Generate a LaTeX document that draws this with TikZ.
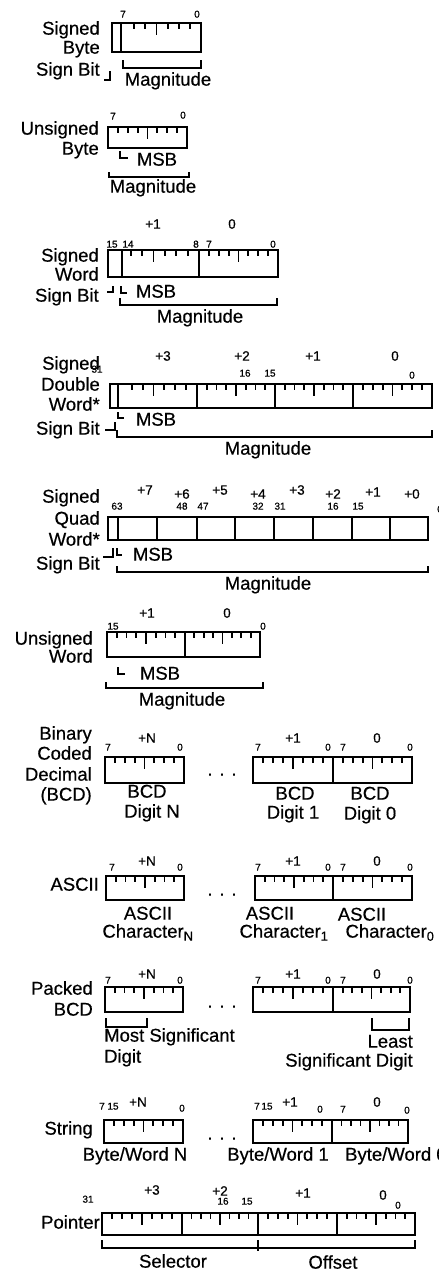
\documentclass[tikz,border=0pt]{standalone}
\usepackage{fontspec}
\setmainfont{Liberation Sans}[FakeBold=0.5]
\usetikzlibrary{positioning}

\tikzset{
	frame/.style={line width=2.5pt},
	tick/.style={line width=1.8pt},
	brack/.style={line width=1.8pt},
	lbl/.style={inner sep=0pt, anchor=mid, font=\fontsize{18.5}{20}\selectfont},
	rlbl/.style={lbl, anchor=mid east},
	llbl/.style={lbl, anchor=mid west},
	bitno/.style={inner sep=0pt, anchor=mid, font=\fontsize{10}{10}\selectfont},
	byteno/.style={inner sep=0pt, anchor=mid, font=\fontsize{13.5}{14}\selectfont},
}
% ticks of one byte: [first tick]{left}{right}{top}
\newcommand{\byteticks}[4][1]{%
	\foreach \k in {#1,...,7}{%
		\pgfmathsetmacro{\len}{\k==4 ? 12 : 6}
		\draw[tick] ({#2+(#3-#2)*\k/8},#4) -- ++(0,\len);}}

\begin{document}
\begin{tikzpicture}[x=1pt, y=-1pt]
	\useasboundingbox (0,0) rectangle (439,1275);

	% signed byte
	\node[rlbl] (sb-l1) at (100,32) {Signed};
	\node[rlbl] (sb-l2) at (100,51) {Byte};
	\node[rlbl] (sb-l3) at (100,73) {Sign Bit};
	\node[bitno] (sb-b7) at (123,15) {7};
	\node[bitno] (sb-b0) at (197,15) {0};
	\draw[frame] (112,23) rectangle (201,52);
	\draw[frame] (121,23) -- (121,52);
	\byteticks[2]{112}{201}{23}
	\draw[brack] (104,80) -- (110,80) -- (110,71);
	\draw[brack] (123,60) |- (201,68) -- (201,60);
	\node[lbl] (sb-mag) at (168,83) {Magnitude};

	% unsigned byte
	\node[rlbl] (ub-l1) at (99,132) {Unsigned};
	\node[rlbl] (ub-l2) at (99,152) {Byte};
	\node[bitno] (ub-b7) at (113,117) {7};
	\node[bitno] (ub-b0) at (183,116) {0};
	\draw[frame] (108,127) rectangle (187,148);
	\byteticks{108}{187}{127}
	\draw[brack] (120,151) |- (128,158);
	\node[lbl] (ub-msb) at (157,163) {MSB};
	\draw[brack] (109,172) |- (189,177) -- (189,172);
	\node[lbl] (ub-mag) at (153,190) {Magnitude};

	% signed word
	\node[rlbl] (sw-l1) at (99,259) {Signed};
	\node[rlbl] (sw-l2) at (99,278) {Word};
	\node[rlbl] (sw-l3) at (99,299) {Sign Bit};
	\foreach \t/\x [count=\i] in {+1/153,0/232}
		\node[byteno] (sw-n\i) at (\x,226) {\t};
	\foreach \t/\x [count=\i] in {15/112,14/128,8/196,7/209,0/273}
		\node[bitno] (sw-b\i) at (\x,245) {\t};
	\draw[frame] (108,250) rectangle (278,277);
	\draw[frame] (122,250) -- (122,277) (199,250) -- (199,277);
	\byteticks[2]{108}{199}{250}
	\byteticks{199}{278}{250}
	\draw[brack] (107,292) -- (113,292) -- (113,286);
	\draw[brack] (121,286) |- (127,293);
	\node[lbl] (sw-msb) at (156,295) {MSB};
	\draw[brack] (120,298) |- (277,305) -- (277,298);
	\node[lbl] (sw-mag) at (200,320) {Magnitude};

	% signed double word
	\node[rlbl] (sd-l1) at (100,367) {Signed};
	\node[rlbl] (sd-l2) at (100,388) {Double};
	\node[rlbl] (sd-l3) at (100,408) {Word*};
	\node[rlbl] (sd-l4) at (100,432) {Sign Bit};
	\foreach \t/\x [count=\i] in {+3/163,+2/242,+1/313,0/395}
		\node[byteno] (sd-n\i) at (\x,358) {\t};
	\foreach \t/\x/\y [count=\i] in {31/97/370,16/245/374,15/270/374,0/412/376}
		\node[bitno] (sd-b\i) at (\x,\y) {\t};
	\draw[frame] (110,384) rectangle (432,408);
	\draw[frame] (118,384) -- (118,408);
	\foreach \x in {197,275,353}
		\draw[frame] (\x,384) -- (\x,408);
	\byteticks[2]{110}{197}{384}
	\byteticks{197}{275}{384}
	\byteticks{275}{353}{384}
	\byteticks{353}{432}{384}
	\draw[brack] (105,430) -- (115,430) -- (115,422);
	\draw[brack] (118,412) |- (124,418);
	\node[lbl] (sd-msb) at (156,423) {MSB};
	\draw[brack] (117,430) |- (432,437) -- (432,430);
	\node[lbl] (sd-mag) at (268,452) {Magnitude};

	% signed quad word
	\node[rlbl] (sq-l1) at (100,500) {Signed};
	\node[rlbl] (sq-l2) at (100,522) {Quad};
	\node[rlbl] (sq-l3) at (100,543) {Word*};
	\node[rlbl] (sq-l4) at (100,567) {Sign Bit};
	\foreach \t/\x/\y [count=\i] in {+7/145/492,+6/182/496,+5/220/492,+4/258/496,+3/297/492,+2/333/496,+1/373/494,+0/412/496}
		\node[byteno] (sq-n\i) at (\x,\y) {\t};
	\foreach \t/\x/\y [count=\i] in {63/117/507,48/182/507,47/203/507,32/258/507,31/280/507,16/333/507,15/358/507,0/440/510}
		\node[bitno] (sq-b\i) at (\x,\y) {\t};
	\draw[frame] (108,517) rectangle (428,540);
	\foreach \x in {118,157,197,235,274,313,352,390}
		\draw[frame] (\x,517) -- (\x,540);
	\draw[brack] (103,557) -- (113,557) -- (113,548);
	\draw[brack] (117,548) |- (122,555);
	\node[lbl] (sq-msb) at (153,558) {MSB};
	\draw[brack] (117,566) |- (428,572) -- (428,566);
	\node[lbl] (sq-mag) at (268,587) {Magnitude};

	% unsigned word
	\node[rlbl] (uw-l1) at (93,642) {Unsigned};
	\node[rlbl] (uw-l2) at (93,660) {Word};
	\foreach \t/\x [count=\i] in {+1/147,0/227}
		\node[byteno] (uw-n\i) at (\x,615) {\t};
	\foreach \t/\x [count=\i] in {15/113,0/263}
		\node[bitno] (uw-b\i) at (\x,627) {\t};
	\draw[frame] (107,632) rectangle (260,657);
	\draw[frame] (185,632) -- (185,657);
	\byteticks{107}{185}{632}
	\byteticks{185}{260}{632}
	\draw[brack] (118,667) |- (125,674);
	\node[lbl] (uw-msb) at (160,677) {MSB};
	\draw[brack] (106,682) |- (263,688) -- (263,682);
	\node[lbl] (uw-mag) at (182,703) {Magnitude};

	% binary coded decimal
	\node[rlbl] (bcd-l1) at (92,737) {Binary};
	\node[rlbl] (bcd-l2) at (92,757) {Coded};
	\node[rlbl] (bcd-l3) at (92,778) {Decimal};
	\node[rlbl] (bcd-l4) at (92,798) {(BCD)};
	\foreach \t/\x [count=\i] in {+N/147,+1/293,0/377}
		\node[byteno] (bcd-n\i) at (\x,740) {\t};
	\foreach \t/\x [count=\i] in {7/108,0/180,7/258,0/328,7/343,0/410}
		\node[bitno] (bcd-b\i) at (\x,748) {\t};
	\draw[frame] (105,757) rectangle (184,783);
	\draw[frame] (253,757) rectangle (412,783);
	\draw[frame] (333,757) -- (333,783);
	\byteticks{105}{184}{757}
	\byteticks{253}{333}{757}
	\byteticks{333}{412}{757}
	\node[lbl] (bcd-dots) at (222,773) {. . .};
	\node[lbl] (bcd-d1) at (147,795) {BCD};
	\node[lbl] (bcd-d1b) at (152,815) {Digit N};
	\node[lbl] (bcd-d2) at (295,797) {BCD};
	\node[lbl] (bcd-d2b) at (293,816) {Digit 1};
	\node[lbl] (bcd-d3) at (370,797) {BCD};
	\node[lbl] (bcd-d3b) at (370,817) {Digit 0};

	% ascii
	\node[rlbl] (asc-l1) at (99,888) {ASCII};
	\foreach \t/\x [count=\i] in {+N/147,+1/293,0/377}
		\node[byteno] (asc-n\i) at (\x,863) {\t};
	\foreach \t/\x [count=\i] in {7/112,0/180,7/258,0/328,7/343,0/410}
		\node[bitno] (asc-b\i) at (\x,868) {\t};
	\draw[frame] (106,876) rectangle (184,900);
	\draw[frame] (255,876) rectangle (412,900);
	\draw[frame] (333,876) -- (333,900);
	\byteticks{106}{184}{876}
	\byteticks{255}{333}{876}
	\byteticks{333}{412}{876}
	\node[lbl] (asc-dots) at (222,893) {. . .};
	\node[lbl] (asc-c1) at (148,917) {ASCII};
	\node[lbl] (asc-c1b) at (148,935) {Character\textsubscript{N}};
	\node[lbl] (asc-c2) at (270,917) {ASCII};
	\node[lbl] (asc-c2b) at (284,935) {Character\textsubscript{1}};
	\node[lbl] (asc-c3) at (362,918) {ASCII};
	\node[lbl] (asc-c3b) at (390,935) {Character\textsubscript{0}};

	% packed bcd
	\node[rlbl] (pb-l1) at (93,992) {Packed};
	\node[rlbl] (pb-l2) at (93,1013) {BCD};
	\foreach \t/\x [count=\i] in {+N/147,+1/293,0/377}
		\node[byteno] (pb-n\i) at (\x,976) {\t};
	\foreach \t/\x [count=\i] in {7/108,0/180,7/258,0/328,7/343,0/410}
		\node[bitno] (pb-b\i) at (\x,981) {\t};
	\draw[frame] (105,987) rectangle (183,1012);
	\draw[frame] (253,987) rectangle (410,1012);
	\draw[frame] (333,987) -- (333,1012);
	\byteticks{105}{183}{987}
	\byteticks{253}{333}{987}
	\byteticks{333}{410}{987}
	\node[lbl] (pb-dots) at (222,1005) {. . .};
	\draw[brack] (106,1018) |- (147,1027) -- (147,1018);
	\node[llbl] (pb-ms1) at (104,1039) {Most Significant};
	\node[llbl] (pb-ms2) at (104,1060) {Digit};
	\draw[brack] (372,1018) |- (409,1030) -- (409,1018);
	\node[rlbl] (pb-ls1) at (413,1045) {Least};
	\node[rlbl] (pb-ls2) at (413,1064) {Significant Digit};

	% string
	\node[rlbl] (str-l1) at (93,1132) {String};
	\foreach \t/\x [count=\i] in {+N/138,+1/290,0/377}
		\node[byteno] (str-n\i) at (\x,1104) {\t};
	\foreach \t/\x/\y [count=\i] in {7/102/1107,15/113/1107,0/182/1109,7/257/1107,15/267/1107,0/320/1110,7/343/1110,0/407/1111}
		\node[bitno] (str-b\i) at (\x,\y) {\t};
	\draw[frame] (104,1120) rectangle (183,1143);
	\draw[frame] (253,1120) rectangle (408,1143);
	\draw[frame] (332,1120) -- (332,1143);
	\byteticks{104}{183}{1120}
	\byteticks{253}{332}{1120}
	\byteticks{332}{408}{1120}
	\node[lbl] (str-dots) at (222,1137) {. . .};
	\node[lbl] (str-w1) at (135,1158) {Byte/Word N};
	\node[lbl] (str-w2) at (278,1158) {Byte/Word 1};
	\node[llbl] (str-w3) at (345,1158) {Byte/Word 0};

	% pointer
	\node[rlbl] (ptr-l1) at (100,1226) {Pointer};
	\foreach \t/\x/\y [count=\i] in {+3/152/1192,+2/220/1193,+1/303/1195,0/383/1197}
		\node[byteno] (ptr-n\i) at (\x,\y) {\t};
	\foreach \t/\x/\y [count=\i] in {31/88/1200,16/223/1202,15/247/1202,0/398/1206}
		\node[bitno] (ptr-b\i) at (\x,\y) {\t};
	\draw[frame] (102,1213) rectangle (415,1235);
	\foreach \x in {182,258,337}
		\draw[frame] (\x,1213) -- (\x,1235);
	\byteticks{102}{182}{1213}
	\byteticks{182}{258}{1213}
	\byteticks{258}{337}{1213}
	\byteticks{337}{415}{1213}
	\draw[brack] (102,1240) |- (415,1248) -- (415,1240);
	\draw[brack] (258,1240) -- (258,1251);
	\node[lbl] (ptr-sel) at (173,1265) {Selector};
	\node[lbl] (ptr-off) at (333,1266) {Offset};
\end{tikzpicture}
\end{document}
